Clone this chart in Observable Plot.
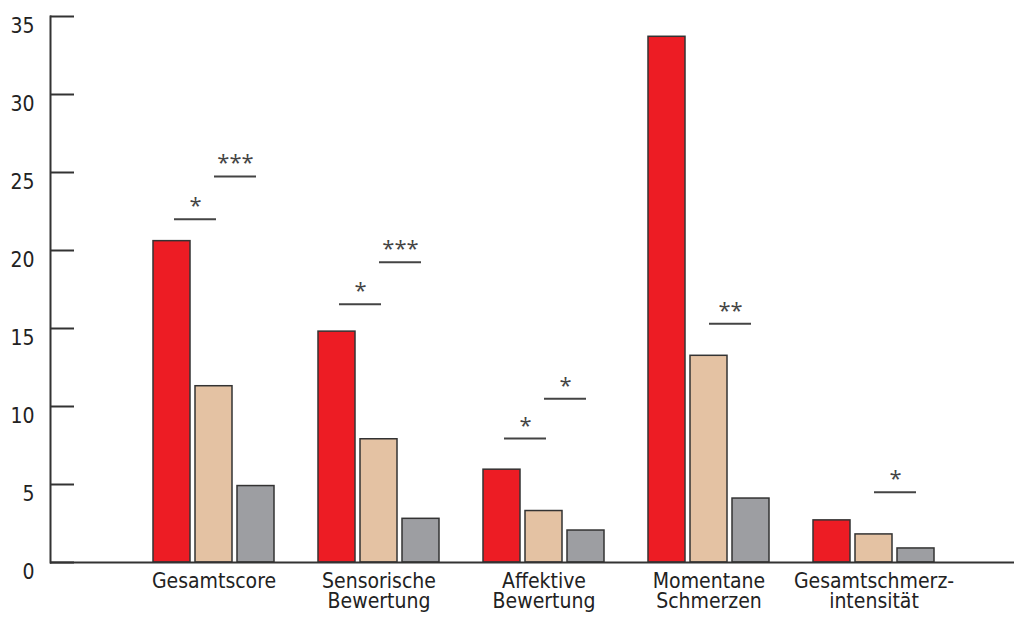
<!DOCTYPE html>
<html><head><meta charset="utf-8">
<script src="https://cdn.jsdelivr.net/npm/d3@7"></script>
<script src="https://cdn.jsdelivr.net/npm/@observablehq/plot@0.6"></script>
<style>body{margin:0;background:#fff}#chart svg{display:block}</style>
</head><body><div id="chart"></div>
<script>
const categories = ["Gesamtscore", "Sensorische\nBewertung", "Affektive\nBewertung", "Momentane\nSchmerzen", "Gesamtschmerz-\nintensität"];
const seriesKeys = ["s1", "s2", "s3"];
const seriesColors = ["#ED1C24", "#E4C2A3", "#9D9EA2"];
const values1 = [20.6, 14.8, 5.95, 33.7, 2.7];
const values2 = [11.3, 7.9, 3.3, 13.25, 1.8];
const values3 = [4.9, 2.8, 2.05, 4.1, 0.9];
const yTicks = [0, 5, 10, 15, 20, 25, 30, 35];

const sigCategory = [0, 0, 1, 1, 2, 2, 3, 4];
const sigPair = [0, 1, 0, 1, 0, 1, 1, 1];
const sigValue = [22.0, 24.75, 16.55, 19.25, 7.95, 10.5, 15.3, 4.5];
const sigLabel = ["*", "***", "*", "***", "*", "*", "**", "*"];

const seriesValues = [values1, values2, values3];
const rows = categories.flatMap((c, i) => seriesKeys.map((s, j) => ({category: c, series: j, value: seriesValues[j][i]})));
const sig = sigCategory.map((ci, k) => ({category: categories[ci], pair: sigPair[k], value: sigValue[k], label: sigLabel[k]}));

const W = 1024, H = 617;
const ink = "#333";
const labelFont = "'Liberation Sans Narrow', 'DejaVu Sans Condensed', 'Open Sans', sans-serif";
const barInsets = [[0, 84], [42, 42], [84, 0]];
const pairInsets = [[21, 58], [61, 18]];
const pairDx = [-18.5, 21.5];

const marks = [];
seriesKeys.forEach((s, j) => {
  marks.push(Plot.barY(rows.filter(r => r.series === j), {
    x: "category", y: "value", fill: seriesColors[j], stroke: ink, strokeWidth: 1.5,
    insetLeft: barInsets[j][0], insetRight: barInsets[j][1]
  }));
});
[0, 1].forEach(p => {
  const d = sig.filter(r => r.pair === p);
  marks.push(Plot.tickY(d, {x: "category", y: "value", stroke: "#444", strokeWidth: 2,
    insetLeft: pairInsets[p][0], insetRight: pairInsets[p][1]}));
  marks.push(Plot.text(d, {x: "category", y: "value", text: "label", dx: pairDx[p], dy: -13,
    fontSize: 22, fill: "#444", fontFamily: "'Open Sans', sans-serif"}));
});
marks.push(Plot.ruleY([0], {stroke: ink, strokeWidth: 2}));
marks.push(Plot.frame({anchor: "left", stroke: ink, strokeWidth: 2}));
marks.push(Plot.tickY(yTicks, {y: d => d, stroke: ink, strokeWidth: 2, insetRight: (W - 10 - 50) - 24}));
marks.push(Plot.axisY(yTicks, {tickSize: 0, tickPadding: 16, dy: 10, fontSize: 21, fontFamily: labelFont, fill: "#222", label: null}));
marks.push(Plot.axisX({tickSize: 0, tickPadding: 11, fontSize: 21, lineHeight: 0.95, fontFamily: labelFont, fill: "#222", label: null}));

const chart = Plot.plot({
  width: W, height: H,
  marginLeft: 50, marginRight: 10, marginTop: 16, marginBottom: 55,
  style: {background: "#fff", overflow: "visible"},
  x: {type: "band", domain: categories, range: [151, 936], paddingInner: 44 / 166, paddingOuter: 0, label: null},
  y: {domain: [0, 35], label: null},
  marks
});
document.getElementById("chart").append(chart);
</script>
</body></html>
